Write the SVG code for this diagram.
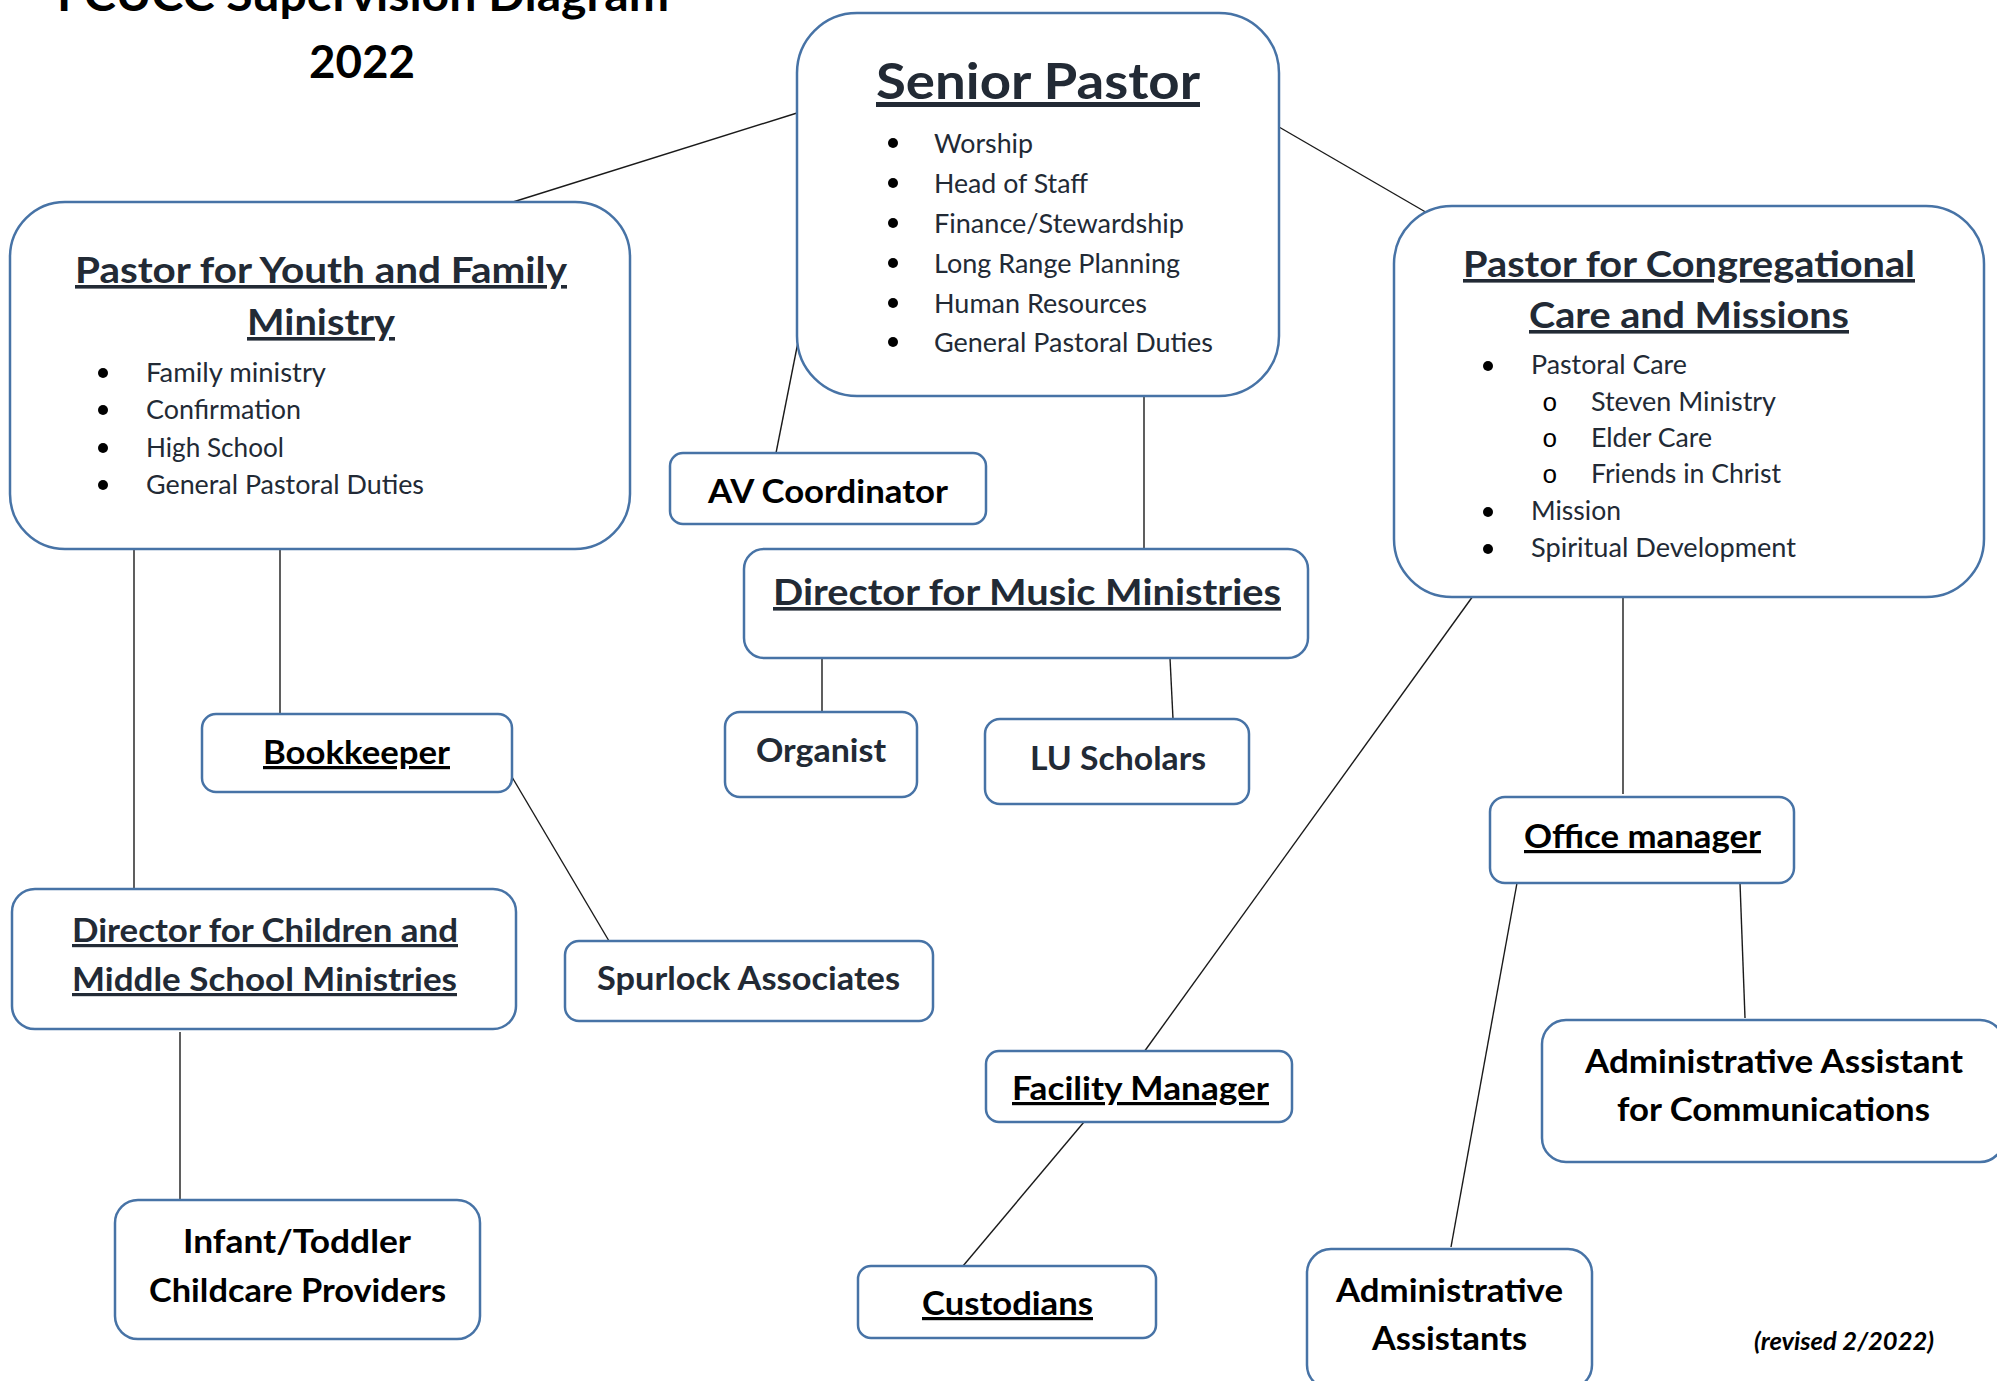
<svg xmlns="http://www.w3.org/2000/svg" width="1997" height="1381" viewBox="0 0 1997 1381">
<style>
.box{fill:#fff;stroke:#4773A6;stroke-width:2.5}
.conn line{stroke:#1a1a1a;stroke-width:1.4}
text{font-family:Lato,"Open Sans",sans-serif}
.hd{font-weight:700;fill:#222a35}
.bk{font-weight:700;fill:#000}
.bl{font-weight:400;fill:#222a35;font-size:26.5px}
.u{text-decoration:underline}
.dot{fill:#000}
.ring{font-family:"Liberation Mono",monospace;font-size:26px;fill:#000}
</style>
<rect width="1997" height="1381" fill="#fff"/>
<g id="title">
<text class="bk" x="57" y="11" font-size="46" textLength="612" lengthAdjust="spacingAndGlyphs">FCUCC Supervision Diagram</text>
<text class="bk" x="309" y="78" font-size="46" textLength="106" lengthAdjust="spacingAndGlyphs">2022</text>
</g>
<g id="connectors" class="conn">
<line x1="797" y1="113" x2="513" y2="202"/>
<line x1="1279" y1="127" x2="1429" y2="214"/>
<line x1="798" y1="342" x2="776" y2="453"/>
<line x1="1144" y1="396" x2="1144" y2="549"/>
<line x1="822" y1="658" x2="822" y2="712"/>
<line x1="1170" y1="658" x2="1173" y2="719"/>
<line x1="280" y1="549" x2="280" y2="718"/>
<line x1="134" y1="549" x2="134" y2="889"/>
<line x1="512" y1="777" x2="609" y2="941"/>
<line x1="180" y1="1032" x2="180" y2="1199"/>
<line x1="1473" y1="596" x2="1144" y2="1052"/>
<line x1="1623" y1="597" x2="1623" y2="794"/>
<line x1="1084" y1="1122" x2="963" y2="1266"/>
<line x1="1517" y1="883" x2="1451" y2="1247"/>
<line x1="1740" y1="883" x2="1745" y2="1018"/>
</g>
<g id="senior-pastor">
<rect class="box" x="797" y="13" width="482" height="383" rx="60"/>
<text class="hd u" x="876" y="99" font-size="50" textLength="324" lengthAdjust="spacingAndGlyphs">Senior Pastor</text>
<circle class="dot" cx="893" cy="143" r="5"/><text class="bl" x="934" y="153" textLength="99" lengthAdjust="spacingAndGlyphs">Worship</text>
<circle class="dot" cx="893" cy="183" r="5"/><text class="bl" x="934" y="193" textLength="154" lengthAdjust="spacingAndGlyphs">Head of Staff</text>
<circle class="dot" cx="893" cy="223" r="5"/><text class="bl" x="934" y="233" textLength="250" lengthAdjust="spacingAndGlyphs">Finance/Stewardship</text>
<circle class="dot" cx="893" cy="263" r="5"/><text class="bl" x="934" y="273" textLength="246" lengthAdjust="spacingAndGlyphs">Long Range Planning</text>
<circle class="dot" cx="893" cy="303" r="5"/><text class="bl" x="934" y="313" textLength="213" lengthAdjust="spacingAndGlyphs">Human Resources</text>
<circle class="dot" cx="893" cy="342" r="5"/><text class="bl" x="934" y="352" textLength="279" lengthAdjust="spacingAndGlyphs">General Pastoral Duties</text>
</g>
<g id="youth-family">
<rect class="box" x="10" y="202" width="620" height="347" rx="55"/>
<text class="hd u" x="75" y="283" font-size="36" textLength="492" lengthAdjust="spacingAndGlyphs">Pastor for Youth and Family</text>
<text class="hd u" x="247" y="335" font-size="36" textLength="148" lengthAdjust="spacingAndGlyphs">Ministry</text>
<circle class="dot" cx="103" cy="373" r="5"/><text class="bl" x="146" y="382" textLength="180" lengthAdjust="spacingAndGlyphs">Family ministry</text>
<circle class="dot" cx="103" cy="410" r="5"/><text class="bl" x="146" y="419" textLength="155" lengthAdjust="spacingAndGlyphs">Confirmation</text>
<circle class="dot" cx="103" cy="448" r="5"/><text class="bl" x="146" y="457" textLength="138" lengthAdjust="spacingAndGlyphs">High School</text>
<circle class="dot" cx="103" cy="485" r="5"/><text class="bl" x="146" y="494" textLength="278" lengthAdjust="spacingAndGlyphs">General Pastoral Duties</text>
</g>
<g id="congregational-care">
<rect class="box" x="1394" y="206" width="590" height="391" rx="58"/>
<text class="hd u" x="1463" y="277" font-size="36" textLength="452" lengthAdjust="spacingAndGlyphs">Pastor for Congregational</text>
<text class="hd u" x="1529" y="328" font-size="36" textLength="320" lengthAdjust="spacingAndGlyphs">Care and Missions</text>
<circle class="dot" cx="1488" cy="366" r="5"/><text class="bl" x="1531" y="374" textLength="156" lengthAdjust="spacingAndGlyphs">Pastoral Care</text>
<text class="ring" x="1542" y="411">o</text><text class="bl" x="1591" y="411" textLength="185" lengthAdjust="spacingAndGlyphs">Steven Ministry</text>
<text class="ring" x="1542" y="447">o</text><text class="bl" x="1591" y="447" textLength="121" lengthAdjust="spacingAndGlyphs">Elder Care</text>
<text class="ring" x="1542" y="483">o</text><text class="bl" x="1591" y="483" textLength="190" lengthAdjust="spacingAndGlyphs">Friends in Christ</text>
<circle class="dot" cx="1488" cy="512" r="5"/><text class="bl" x="1531" y="520" textLength="90" lengthAdjust="spacingAndGlyphs">Mission</text>
<circle class="dot" cx="1488" cy="549" r="5"/><text class="bl" x="1531" y="557" textLength="265" lengthAdjust="spacingAndGlyphs">Spiritual Development</text>
</g>
<g id="av-coordinator">
<rect class="box" x="670" y="453" width="316" height="71" rx="13"/>
<text class="bk" x="708" y="503" font-size="32" textLength="240" lengthAdjust="spacingAndGlyphs">AV Coordinator</text>
</g>
<g id="music-director">
<rect class="box" x="744" y="549" width="564" height="109" rx="20"/>
<text class="hd u" x="773" y="605" font-size="36" textLength="508" lengthAdjust="spacingAndGlyphs">Director for Music Ministries</text>
</g>
<g id="organist">
<rect class="box" x="725" y="712" width="192" height="85" rx="15"/>
<text class="hd" x="756" y="762" font-size="32" textLength="130" lengthAdjust="spacingAndGlyphs">Organist</text>
</g>
<g id="lu-scholars">
<rect class="box" x="985" y="719" width="264" height="85" rx="15"/>
<text class="hd" x="1030" y="770" font-size="32" textLength="176" lengthAdjust="spacingAndGlyphs">LU Scholars</text>
</g>
<g id="bookkeeper">
<rect class="box" x="202" y="714" width="310" height="78" rx="14"/>
<text class="bk u" x="263" y="764" font-size="32" textLength="187" lengthAdjust="spacingAndGlyphs">Bookkeeper</text>
</g>
<g id="children-director">
<rect class="box" x="12" y="889" width="504" height="140" rx="23"/>
<text class="hd u" x="72" y="942" font-size="32" textLength="386" lengthAdjust="spacingAndGlyphs">Director for Children and</text>
<text class="hd u" x="72" y="991" font-size="32" textLength="385" lengthAdjust="spacingAndGlyphs">Middle School Ministries</text>
</g>
<g id="spurlock">
<rect class="box" x="565" y="941" width="368" height="80" rx="14"/>
<text class="hd" x="597" y="990" font-size="32" textLength="303" lengthAdjust="spacingAndGlyphs">Spurlock Associates</text>
</g>
<g id="childcare">
<rect class="box" x="115" y="1200" width="365" height="139" rx="23"/>
<text class="bk" x="183" y="1253" font-size="32" textLength="228" lengthAdjust="spacingAndGlyphs">Infant/Toddler</text>
<text class="bk" x="149" y="1302" font-size="32" textLength="297" lengthAdjust="spacingAndGlyphs">Childcare Providers</text>
</g>
<g id="facility-manager">
<rect class="box" x="986" y="1051" width="306" height="71" rx="13"/>
<text class="bk u" x="1012" y="1100" font-size="32" textLength="257" lengthAdjust="spacingAndGlyphs">Facility Manager</text>
</g>
<g id="custodians">
<rect class="box" x="858" y="1266" width="298" height="72" rx="13"/>
<text class="bk u" x="922" y="1315" font-size="32" textLength="171" lengthAdjust="spacingAndGlyphs">Custodians</text>
</g>
<g id="office-manager">
<rect class="box" x="1490" y="797" width="304" height="86" rx="15"/>
<text class="bk u" x="1524" y="848" font-size="32" textLength="237" lengthAdjust="spacingAndGlyphs">Office manager</text>
</g>
<g id="admin-communications">
<rect class="box" x="1542" y="1020" width="462" height="142" rx="24"/>
<text class="bk" x="1585" y="1073" font-size="32" textLength="378" lengthAdjust="spacingAndGlyphs">Administrative Assistant</text>
<text class="bk" x="1617" y="1121" font-size="32" textLength="313" lengthAdjust="spacingAndGlyphs">for Communications</text>
</g>
<g id="admin-assistants">
<rect class="box" x="1307" y="1249" width="285" height="140" rx="24"/>
<text class="bk" x="1336" y="1302" font-size="32" textLength="227" lengthAdjust="spacingAndGlyphs">Administrative</text>
<text class="bk" x="1372" y="1350" font-size="32" textLength="155" lengthAdjust="spacingAndGlyphs">Assistants</text>
</g>
<g id="revision-note">
<text class="bk" x="1754" y="1350" font-size="25" font-style="italic" textLength="180" lengthAdjust="spacingAndGlyphs">(revised 2/2022)</text>
</g>
</svg>
